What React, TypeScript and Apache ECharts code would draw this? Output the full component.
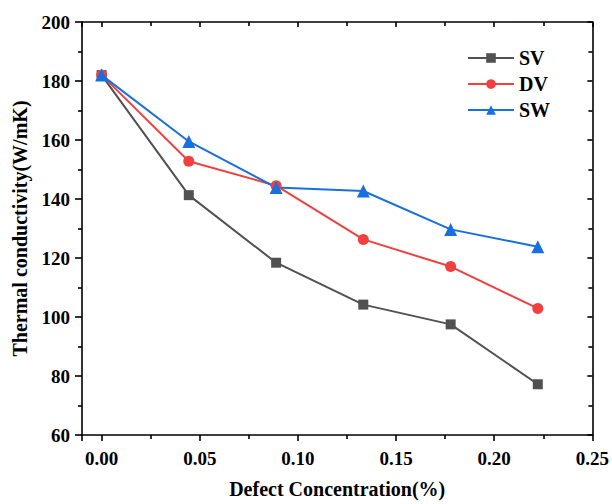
import React, { useEffect, useRef } from "react";
import * as echarts from "echarts";

const xValues = [0, 0.0444, 0.0889, 0.1333, 0.1778, 0.2222];
const svValues = [182, 141.3, 118.4, 104.2, 97.5, 77.2];
const dvValues = [182, 152.8, 144.5, 126.3, 117.1, 102.9];
const swValues = [182, 159.5, 143.9, 142.7, 129.7, 123.8];
const seriesNames = ["SV", "DV", "SW"];

const FONT = "'Liberation Serif', 'Times New Roman', serif";

export default function App() {
  const ref = useRef<HTMLDivElement>(null);
  useEffect(() => {
    if (!ref.current) return;
    const chart = echarts.init(ref.current, undefined, { renderer: "svg" });
    const pair = (ys: number[]) => xValues.map((x, i) => [x, ys[i]]);
    const axisLine = { show: true, onZero: false, lineStyle: { color: "#000", width: 1.6 } };
    const labelStyle = { fontFamily: FONT, fontWeight: "bold" as const, fontSize: 19, color: "#000" };
    chart.setOption({
      animation: false,
      backgroundColor: "#fff",
      grid: { left: 82, right: 16, top: 22, bottom: 68, containLabel: false },
      legend: {
        data: seriesNames,
        orient: "vertical",
        left: 462,
        top: 43,
        itemWidth: 46,
        itemHeight: 12,
        itemGap: 6,
        textStyle: { ...labelStyle, fontSize: 20 },
      },
      xAxis: [
        {
          type: "value",
          min: -0.01,
          max: 0.25,
          splitNumber: 5,
          position: "bottom",
          name: "Defect Concentration(%)",
          nameLocation: "middle",
          nameGap: 44,
          nameTextStyle: { ...labelStyle, fontSize: 20 },
          axisLine,
          axisTick: { show: true, inside: false, length: 6, lineStyle: { color: "#000", width: 1.6 } },
          minorTick: { show: true, splitNumber: 2, length: 4, lineStyle: { color: "#000", width: 1.6 } },
          axisLabel: {
            ...labelStyle,
            margin: 14,
            showMinLabel: false,
            formatter: (v: number) => (v < 0 ? "" : v.toFixed(2)),
          },
          splitLine: { show: false },
        },
        {
          type: "value",
          min: -0.01,
          max: 0.25,
          splitNumber: 5,
          position: "top",
          axisLine,
          axisTick: { show: true, inside: true, length: 5, lineStyle: { color: "#000", width: 1.6 } },
          minorTick: { show: true, splitNumber: 2, length: 4, lineStyle: { color: "#000", width: 1.6 } },
          axisLabel: { show: false },
          splitLine: { show: false },
        },
      ],
      yAxis: [
        {
          type: "value",
          min: 60,
          max: 200,
          interval: 20,
          position: "left",
          name: "Thermal conductivity(W/mK)",
          nameLocation: "middle",
          nameGap: 52,
          nameTextStyle: { ...labelStyle, fontSize: 20 },
          axisLine,
          axisTick: { show: true, inside: false, length: 7, lineStyle: { color: "#000", width: 1.6 } },
          minorTick: { show: true, splitNumber: 2, length: 4, lineStyle: { color: "#000", width: 1.6 } },
          axisLabel: { ...labelStyle, margin: 12 },
          splitLine: { show: false },
        },
        {
          type: "value",
          min: 60,
          max: 200,
          interval: 20,
          position: "right",
          axisLine,
          axisTick: { show: true, inside: true, length: 5, lineStyle: { color: "#000", width: 1.6 } },
          minorTick: { show: true, splitNumber: 2, length: 4, lineStyle: { color: "#000", width: 1.6 } },
          axisLabel: { show: false },
          splitLine: { show: false },
        },
      ],
      series: [
        {
          name: "SV",
          type: "line",
          data: pair(svValues),
          symbol: "rect",
          symbolSize: 10,
          itemStyle: { color: "#515151" },
          lineStyle: { color: "#515151", width: 2 },
        },
        {
          name: "DV",
          type: "line",
          data: pair(dvValues),
          symbol: "circle",
          symbolSize: 11,
          itemStyle: { color: "#F14040" },
          lineStyle: { color: "#F14040", width: 2 },
        },
        {
          name: "SW",
          type: "line",
          data: pair(swValues),
          symbol: "triangle",
          symbolSize: 13,
          itemStyle: { color: "#1A6FDF" },
          lineStyle: { color: "#1A6FDF", width: 2 },
        },
      ],
    });
    return () => chart.dispose();
  }, []);
  return <div ref={ref} style={{ width: 612, height: 504, position: "absolute", left: 0, top: 0 }} />;
}
